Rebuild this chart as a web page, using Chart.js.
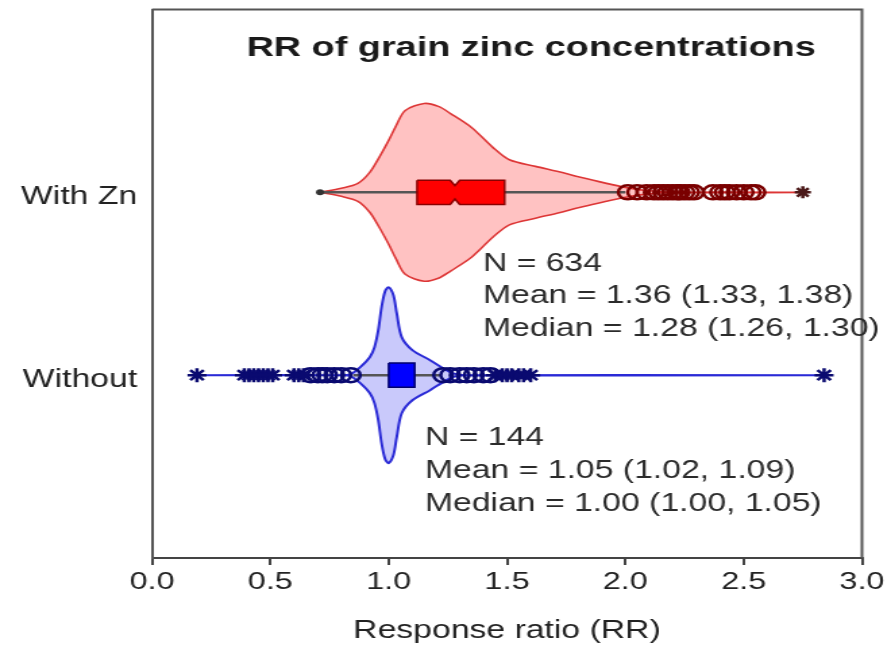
<!DOCTYPE html>
<html>
<head>
<meta charset="utf-8">
<script src="https://cdn.jsdelivr.net/npm/chart.js@4.4.1/dist/chart.umd.min.js"></script>
<style>
  html, body { margin: 0; padding: 0; background: #fff; }
  /* the source figure is stretched sideways, so draw narrow and stretch the canvas */
  #rr { display: block; width: 891px; height: 652px; }
</style>
</head>
<body>
<canvas id="rr" width="660" height="652" style="width:891px;height:652px"></canvas>
<script>
// ── Data ────────────────────────────────────────────────────────────────
const groups = ['With Zn', 'Without'];
const groupY = [2, 1];

// violin outlines: RR value and half width of the density (y units)
const zincX    = [0.71, 0.80, 0.87, 0.92, 0.96, 1.00, 1.03, 1.07, 1.15, 1.21, 1.26, 1.35, 1.44, 1.51, 1.62, 1.72, 1.81, 1.92, 2.00, 2.08, 2.20, 2.75];
const zincHalf = [0, 0.022, 0.049, 0.109, 0.191, 0.284, 0.361, 0.448, 0.486, 0.470, 0.432, 0.355, 0.246, 0.178, 0.142, 0.112, 0.082, 0.049, 0.027, 0.011, 0, 0];

const noZnX    = [0.18, 0.80, 0.84, 0.88, 0.92, 0.94, 0.956, 0.97, 0.985, 1.00, 1.02, 1.034, 1.055, 1.10, 1.175, 1.23, 1.27, 1.32, 2.85];
const noZnHalf = [0, 0, 0.006, 0.044, 0.098, 0.153, 0.246, 0.372, 0.459, 0.481, 0.437, 0.339, 0.208, 0.137, 0.082, 0.038, 0.011, 0, 0];

// box stats [With Zn, Without]
const q1      = [1.12, 1.00];
const median  = [1.28, 1.00];
const q3      = [1.49, 1.11];
const notchLo = [1.26, 1.00];
const notchHi = [1.30, 1.05];
const whiskLo = [0.71, 0.85];
const whiskHi = [2.00, 1.22];

// outliers
const zincCircles = [2.01, 2.05, 2.09, 2.12, 2.14, 2.16, 2.18, 2.20, 2.22, 2.23, 2.25, 2.27, 2.29, 2.37, 2.40, 2.42, 2.44, 2.47, 2.50, 2.53, 2.55];
const zincStars   = [2.75];
const noZnCircles = [0.67, 0.70, 0.72, 0.74, 0.77, 0.80, 0.84, 1.23, 1.26, 1.30, 1.33, 1.36, 1.40, 1.43];
const noZnStars   = [0.19, 0.39, 0.41, 0.43, 0.45, 0.47, 0.49, 0.51, 0.60, 0.62, 0.64, 1.45, 1.48, 1.50, 1.52, 1.55, 1.57, 1.60, 2.84];

const xTicks = [0, 0.5, 1, 1.5, 2, 2.5, 3];

const zincNotes = ['N = 634', 'Mean = 1.36 (1.33, 1.38)', 'Median = 1.28 (1.26, 1.30)'];
const noZnNotes = ['N = 144', 'Mean = 1.05 (1.02, 1.09)', 'Median = 1.00 (1.00, 1.05)'];

// ── Helpers ─────────────────────────────────────────────────────────────
const FONT = "'Liberation Sans', Arial, sans-serif";
const BOX_H = 0.066;

// closed outline: top side left->right, bottom side back
function violinPoints(xs, hs, c) {
    const top = xs.map((x, i) => ({ x, y: c + hs[i] }));
    const bottom = [];
    for (let k = xs.length - 2; k >= 0; k--) bottom.push({ x: xs[k], y: c - hs[k] });
    return top.concat(bottom);
}

function boxPoints(i) {
    const c = groupY[i], h = BOX_H;
    if (notchLo[i] <= q1[i]) {
        // notch falls outside the box: plain rectangle
        return [
            { x: q1[i], y: c + h }, { x: q3[i], y: c + h },
            { x: q3[i], y: c - h }, { x: q1[i], y: c - h }, { x: q1[i], y: c + h }
        ];
    }
    const n = h * 0.55;
    return [
        { x: q1[i], y: c + h }, { x: notchLo[i], y: c + h }, { x: median[i], y: c + n },
        { x: notchHi[i], y: c + h }, { x: q3[i], y: c + h }, { x: q3[i], y: c - h },
        { x: notchHi[i], y: c - h }, { x: median[i], y: c - n }, { x: notchLo[i], y: c - h },
        { x: q1[i], y: c - h }, { x: q1[i], y: c + h }
    ];
}

const pts = (xs, c) => xs.map(x => ({ x, y: c }));

const shape = (data, fillCol, lineCol, width, order, tension) => ({
    data, order, tension,
    fill: 'shape',
    backgroundColor: fillCol,
    borderColor: lineCol,
    borderWidth: width,
    pointRadius: 0
});

const markers = (data, style, col, order, r) => ({
    data, order,
    showLine: false,
    pointStyle: style,
    pointRadius: r,
    pointBorderWidth: 2.5,
    pointBorderColor: col,
    pointBackgroundColor: 'transparent'
});

// ── Plugins ─────────────────────────────────────────────────────────────
const frame = {
    id: 'frame',
    afterDatasetsDraw(chart) {
        const { ctx, chartArea: a } = chart;
        ctx.save();
        ctx.strokeStyle = '#555';
        ctx.lineWidth = 2;
        ctx.beginPath();
        ctx.moveTo(a.left, a.top);
        ctx.lineTo(a.right, a.top);
        ctx.lineTo(a.right, a.bottom);
        ctx.stroke();
        ctx.restore();
    }
};

const notes = {
    id: 'notes',
    afterDraw(chart) {
        const { ctx, chartArea: a, scales } = chart;
        ctx.save();
        // title sits inside the frame
        ctx.fillStyle = '#1a1a1a';
        ctx.font = `bold 28px ${FONT}`;
        ctx.textAlign = 'center';
        ctx.textBaseline = 'middle';
        ctx.fillText('RR of grain zinc concentrations', a.left + (a.right - a.left) * 0.534, a.top + 39);

        ctx.fillStyle = '#2b2b2b';
        ctx.font = `25px ${FONT}`;
        ctx.textAlign = 'left';
        const put = (lines, xv, yv) => {
            const x = scales.x.getPixelForValue(xv);
            const y = scales.y.getPixelForValue(yv);
            lines.forEach((t, i) => ctx.fillText(t, x, y + i * 32.7));
        };
        put(zincNotes, 1.398, 1.61);
        put(noZnNotes, 1.153, 0.655);
        ctx.restore();
    }
};

// ── Chart ───────────────────────────────────────────────────────────────
const datasets = [
    shape(violinPoints(zincX, zincHalf, groupY[0]), 'rgba(255, 0, 0, 0.24)', '#dd3636', 1.6, 6, 0.3),
    shape(violinPoints(noZnX, noZnHalf, groupY[1]), 'rgba(30, 30, 240, 0.24)', '#2a2ad6', 2, 6, 0.3),
    { data: [{ x: whiskLo[0], y: groupY[0] }, { x: whiskHi[0], y: groupY[0] }], order: 5,
      borderColor: '#555', borderWidth: 2.5, fill: false,
      pointRadius: [3, 0], pointBackgroundColor: '#333', pointBorderWidth: 0 },
    { data: [{ x: whiskLo[1], y: groupY[1] }, { x: whiskHi[1], y: groupY[1] }], order: 5,
      borderColor: '#555', borderWidth: 2.5, pointRadius: 0, fill: false },
    shape(boxPoints(0), '#ff0000', '#8a0000', 1.5, 4, 0),
    shape(boxPoints(1), '#0000ff', '#00006a', 1.5, 4, 0),
    markers(pts(zincCircles, groupY[0]), 'circle', '#7a0000', 3, 7),
    markers(pts(zincStars, groupY[0]), 'star', '#4a1818', 2, 6),
    markers(pts(noZnCircles, groupY[1]), 'circle', '#0a0a70', 3, 7),
    markers(pts(noZnStars, groupY[1]), 'star', '#0a0a70', 2, 7)
];

new Chart(document.getElementById('rr'), {
    type: 'line',
    data: { datasets },
    options: {
        responsive: false,
        devicePixelRatio: 1,
        animation: false,
        layout: { padding: { top: 9, right: 21.5, left: 0, bottom: 0 } },
        plugins: {
            legend: { display: false },
            tooltip: { enabled: false },
            title: { display: false }
        },
        scales: {
            x: {
                type: 'linear',
                min: 0, max: 3,
                afterBuildTicks: s => { s.ticks = xTicks.map(v => ({ value: v })); },
                afterFit: s => { s.height = 94; },
                border: { color: '#444', width: 2 },
                grid: { drawOnChartArea: false, drawTicks: true, tickLength: 7, color: '#444', lineWidth: 2 },
                ticks: { color: '#222', font: { family: FONT, size: 24 }, padding: 3,
                         callback: v => v.toFixed(1) },
                title: { display: true, text: 'Response ratio (RR)', color: '#222',
                         font: { family: FONT, size: 25 }, padding: { top: 0, bottom: 6 } }
            },
            y: {
                type: 'linear',
                min: 0, max: 3,
                afterBuildTicks: s => { s.ticks = groupY.map(v => ({ value: v })); },
                afterFit: s => { s.width = 112.6; s.paddingTop = 0; s.paddingBottom = 0; },
                border: { color: '#555', width: 2 },
                grid: { drawOnChartArea: false, drawTicks: false },
                ticks: { color: '#222', font: { family: FONT, size: 25 }, padding: 11, labelOffset: 5,
                          callback: v => groups[groupY.indexOf(v)] }
            }
        }
    },
    plugins: [frame, notes]
});
</script>
</body>
</html>
